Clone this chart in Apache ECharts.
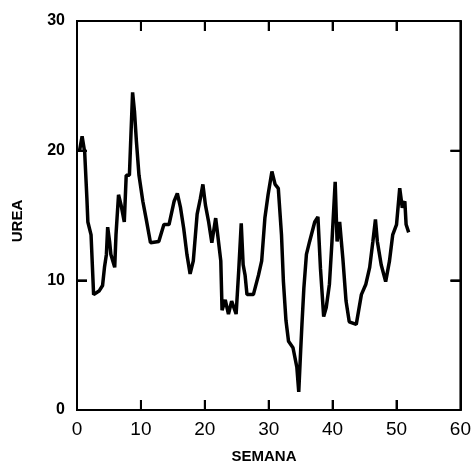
<!DOCTYPE html>
<html>
<head>
<meta charset="utf-8">
<script src="https://cdn.jsdelivr.net/npm/echarts@6/dist/echarts.min.js"></script>
</head>
<body style="margin:0;background:#fff">
<div id="chart" style="width:474px;height:466px"></div>
<script>
// weekly urea readings
const weeks = [0.4, 0.8, 1.2, 1.55, 1.7, 2.2, 2.6, 3.5, 4, 4.3, 4.6, 4.8, 5.1, 5.3, 5.9, 6.1, 6.5, 6.9, 7.4, 7.7,
  8.2, 8.4, 8.7, 9, 9.3, 9.7, 10.3, 10.8, 11.5, 12.8, 13.6, 14.4, 15.2, 15.7, 16.2, 16.7, 17.2, 17.7, 18.2, 18.8,
  19.3, 19.7, 20.1, 20.6, 21.1, 21.7, 21.9, 22.5, 22.7, 23.2, 23.7, 24.2, 24.9, 25.3, 25.7, 26, 26.3, 26.6, 27.6, 28.4,
  28.9, 29.4, 29.9, 30.5, 31, 31.5, 32, 32.3, 32.7, 33.1, 33.8, 34.4, 34.7, 35, 35.2, 35.5, 35.9, 36.4, 37.2, 37.7,
  38.1, 38.6, 39, 39.5, 39.9, 40.4, 40.7, 41.1, 41.6, 42.1, 42.6, 43.7, 44.5, 45.2, 45.8, 46.3, 46.7, 47, 47.6, 48.3,
  48.9, 49.4, 50, 50.5, 50.9, 51.3, 51.5, 51.9];
const urea = [20, 21.1, 19.9, 16.3, 14.5, 13.5, 8.9, 9.2, 9.6, 11, 12, 14.1, 13, 12, 11, 13.5, 16.6, 15.8, 14.5, 18.1,
  18.1, 20.7, 24.5, 23, 20.7, 18.1, 16.1, 14.8, 12.9, 13, 14.3, 14.3, 16.1, 16.7, 15.6, 14, 12, 10.5, 11.5, 15.1,
  16.3, 17.4, 15.8, 14.5, 12.9, 14.8, 14, 11.5, 7.7, 8.5, 7.4, 8.4, 7.4, 10.7, 14.4, 11.2, 10.4, 8.9, 8.9, 10.4,
  11.5, 14.8, 16.6, 18.4, 17.4, 17.1, 13.5, 9.9, 6.9, 5.3, 4.8, 3.3, 1.4, 4.6, 6.6, 9.4, 12, 13, 14.5, 14.9,
  10.9, 7.2, 7.9, 9.7, 13, 17.6, 13, 14.5, 11.7, 8.4, 6.8, 6.6, 8.9, 9.7, 11, 13, 14.7, 13, 11.2, 9.9,
  11.5, 13.5, 14.3, 17.1, 15.6, 16.1, 14.3, 13.7];
const xTicks = [10, 20, 30, 40, 50];
const yTicks = [10, 20];

const FONT = 'Liberation Sans, Arial, sans-serif';

const chart = echarts.init(document.getElementById('chart'));

const axisLine = () => ({ show: true, onZero: false, lineStyle: { color: '#000', width: 2 } });
const axisTick = () => ({ show: true, inside: true, length: 10, lineStyle: { color: '#000', width: 2 } });

const titles = [
  {
    id: 'yname', type: 'text', x: 18, y: 221, rotation: Math.PI / 2,
    style: { text: 'UREA', fill: '#000', font: 'bold 15px ' + FONT, align: 'center', verticalAlign: 'middle' }
  },
  {
    id: 'xname', type: 'text', x: 264, y: 457,
    style: { text: 'SEMANA', fill: '#000', font: 'bold 15px ' + FONT, align: 'center', verticalAlign: 'middle' }
  }
];

chart.setOption({
  animation: false,
  grid: { left: 77, right: 12, top: 21, bottom: 56 },
  xAxis: [
    {
      type: 'value', min: 0, max: 60, interval: 10,
      axisLine: axisLine(), axisTick: axisTick(),
      axisLabel: { fontSize: 19, color: '#000', fontFamily: FONT, margin: 10 },
      splitLine: { show: false }
    },
    {
      type: 'value', min: 0, max: 60, interval: 10, position: 'top',
      axisLine: axisLine(), axisTick: axisTick(), axisLabel: { show: false }, splitLine: { show: false }
    }
  ],
  yAxis: [
    {
      type: 'value', min: 0, max: 30, interval: 10,
      axisLine: axisLine(), axisTick: axisTick(),
      axisLabel: { fontSize: 16, fontWeight: 'bold', color: '#000', fontFamily: FONT, margin: 12 },
      splitLine: { show: false }
    },
    {
      type: 'value', min: 0, max: 30, interval: 10, position: 'right',
      axisLine: axisLine(), axisTick: axisTick(), axisLabel: { show: false }, splitLine: { show: false }
    }
  ],
  graphic: titles,
  series: [
    {
      type: 'line',
      data: weeks.map((w, i) => [w, urea[i]]),
      showSymbol: false,
      lineStyle: { color: '#000', width: 3.5 }
    }
  ]
});

// frame and inward ticks, placed through the axes' own scales
const px = v => chart.convertToPixel({ xAxisIndex: 0 }, v);
const py = v => chart.convertToPixel({ yAxisIndex: 0 }, v);
const x0 = px(0), x1 = px(60), y0 = py(0), y1 = py(30);
const tickStyle = { stroke: '#000', lineWidth: 2 };
const frame = [{
  id: 'frame', type: 'rect', z: 100,
  shape: { x: x0, y: y1, width: x1 - x0, height: y0 - y1 },
  style: { fill: 'none', stroke: '#000', lineWidth: 2 }
}];
xTicks.forEach(v => {
  const x = px(v);
  frame.push({ id: 'tb' + v, type: 'line', z: 100, shape: { x1: x, y1: y0, x2: x, y2: y0 - 10 }, style: tickStyle });
  frame.push({ id: 'tt' + v, type: 'line', z: 100, shape: { x1: x, y1: y1, x2: x, y2: y1 + 10 }, style: tickStyle });
});
yTicks.forEach(v => {
  const y = py(v);
  frame.push({ id: 'tl' + v, type: 'line', z: 100, shape: { x1: x0, y1: y, x2: x0 + 10, y2: y }, style: tickStyle });
  frame.push({ id: 'tr' + v, type: 'line', z: 100, shape: { x1: x1, y1: y, x2: x1 - 10, y2: y }, style: tickStyle });
});
chart.setOption({ graphic: titles.concat(frame) });
</script>
</body>
</html>
